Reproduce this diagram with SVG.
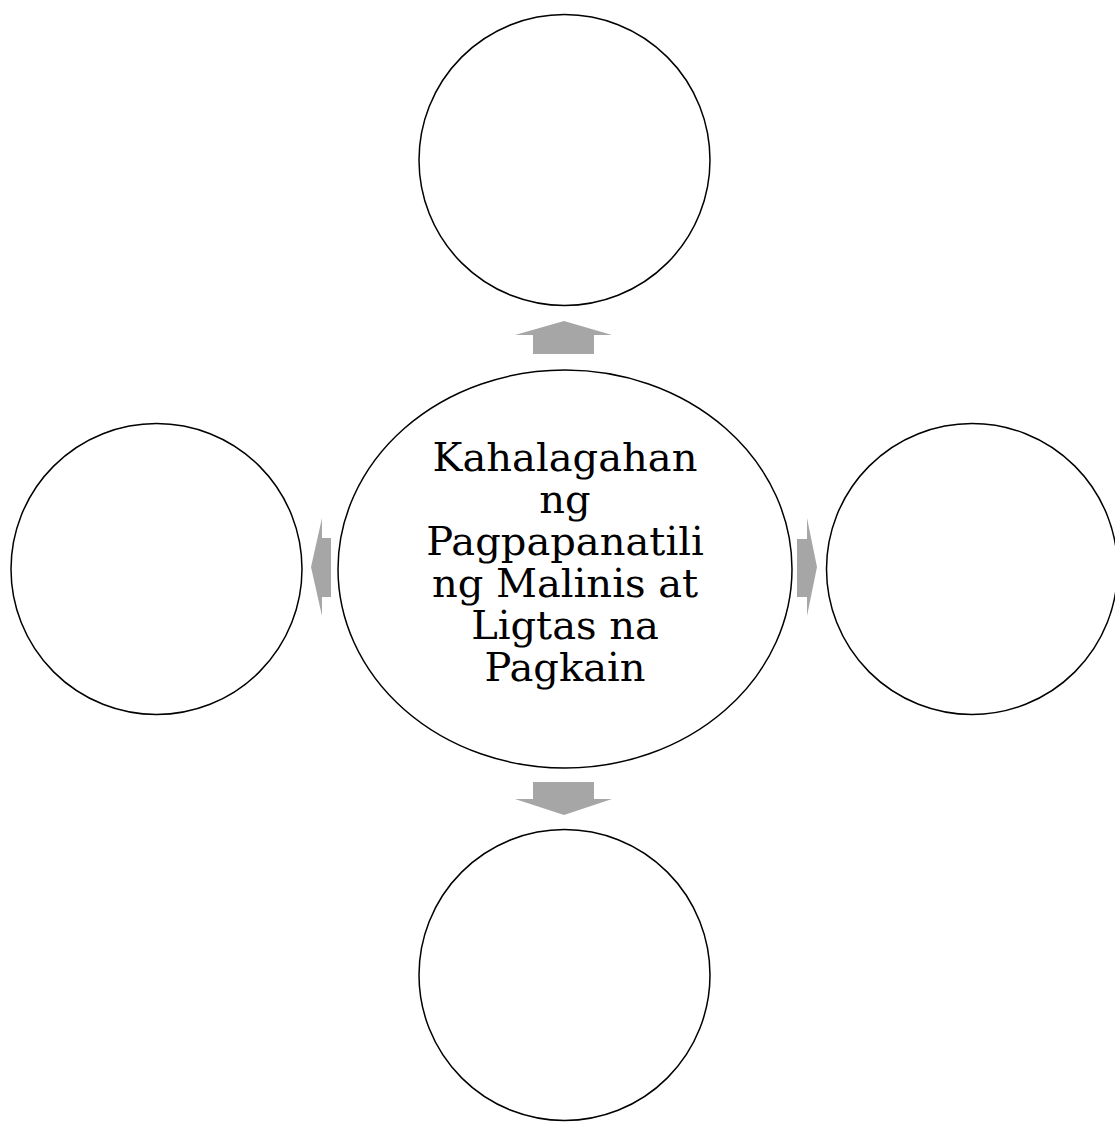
<svg xmlns="http://www.w3.org/2000/svg" width="1115" height="1122" viewBox="0 0 1115 1122">
<style>
.node{fill:#fff;stroke:#000;stroke-width:1.5}
.arr{fill:#a6a6a6}
.lbl{font-family:"DejaVu Serif","Liberation Serif",serif;font-size:40px;fill:#000;text-anchor:middle}
</style>
<rect width="1115" height="1122" fill="#fff"/>
<g id="connectors">
<polygon class="arr" points="564,321 612,335 594,335 594,354 533,354 533,335 515,335"/>
<polygon class="arr" points="564,815 612,799 594,799 594,782 533,782 533,799 515,799"/>
<polygon class="arr" points="311,567 322,518 322,538 331,538 331,597 322,597 322,616"/>
<polygon class="arr" points="817,567 807,518 807,539 797,539 797,597 807,597 807,616"/>
</g>
<g id="node-top"><circle class="node" cx="564.5" cy="160" r="145.5"/></g>
<g id="node-bottom"><circle class="node" cx="564.5" cy="975" r="145.5"/></g>
<g id="node-left"><circle class="node" cx="156.5" cy="569" r="145.5"/></g>
<g id="node-right"><circle class="node" cx="972" cy="569" r="145.5"/></g>
<g id="node-center">
<ellipse class="node" cx="565" cy="569" rx="227" ry="199"/>
<text class="lbl" x="565" y="471">Kahalagahan</text>
<text class="lbl" x="565" y="513">ng</text>
<text class="lbl" x="565" y="555">Pagpapanatili</text>
<text class="lbl" x="565" y="597">ng Malinis at</text>
<text class="lbl" x="565" y="639">Ligtas na</text>
<text class="lbl" x="565" y="681">Pagkain</text>
</g>
</svg>
